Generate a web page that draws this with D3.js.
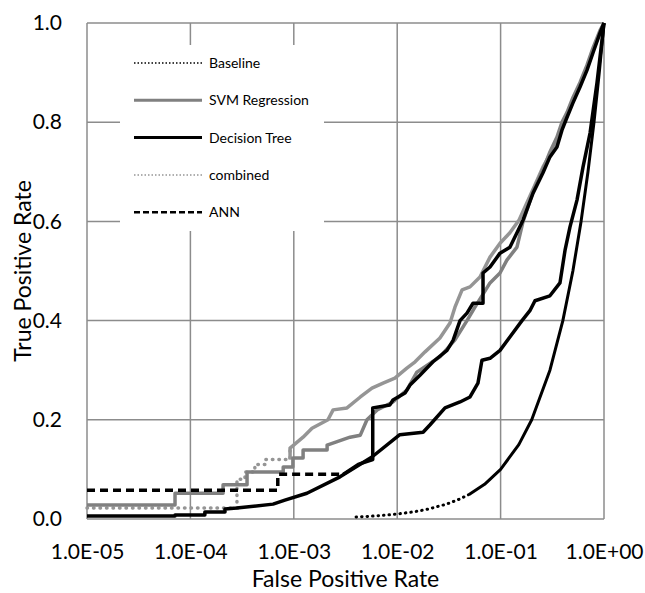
<!DOCTYPE html>
<html>
<head>
<meta charset="utf-8">
<script src="https://cdn.jsdelivr.net/npm/d3@7"></script>
<style>
	body { margin: 0; background: #fff; }
	svg { display: block; font-family: Lato, "Open Sans", sans-serif; }
</style>
</head>
<body>
<svg id="chart"></svg>
<script>
// tick values and labels
var xTicks = [1e-5, 1e-4, 1e-3, 1e-2, 1e-1, 1];
var xTickLabels = ["1.0E-05", "1.0E-04", "1.0E-03", "1.0E-02", "1.0E-01", "1.0E+00"];
var yTicks = [0, 0.2, 0.4, 0.6, 0.8, 1.0];
var seriesNames = ["Baseline", "SVM Regression", "Decision Tree", "combined", "ANN"];

// series values
var baselineFpr = [0.004, 0.006, 0.008, 0.01, 0.015, 0.02, 0.03, 0.04, 0.05, 0.07, 0.1, 0.15, 0.2, 0.3, 0.4, 0.5, 0.6, 0.7, 0.8, 0.9, 1.0];
var baselineTpr = [0.004, 0.006, 0.008, 0.01, 0.015, 0.02, 0.03, 0.04, 0.05, 0.07, 0.1, 0.15, 0.2, 0.3, 0.4, 0.5, 0.6, 0.7, 0.8, 0.9, 1.0];

var svmFpr = [1e-5, 7.1e-5, 7.1e-5, 2.07e-4, 2.07e-4, 3.53e-4, 3.53e-4, 7.9e-4, 7.9e-4, 9.8e-4, 9.8e-4, 1.23e-3, 1.23e-3, 2.1e-3, 2.1e-3, 3.5e-3, 4.4e-3, 5.1e-3, 6.4e-3, 9.1e-3, 0.0124, 0.0155, 0.0259, 0.0362, 0.0473, 0.0565, 0.079, 0.0987, 0.115, 0.144, 0.165, 0.206, 0.257, 0.30, 0.351, 0.392, 0.439, 0.501, 0.586, 0.685, 0.783, 0.915, 1.0];
var svmTpr = [0.028, 0.028, 0.052, 0.052, 0.069, 0.069, 0.095, 0.095, 0.105, 0.105, 0.123, 0.123, 0.139, 0.139, 0.149, 0.165, 0.169, 0.20, 0.22, 0.236, 0.26, 0.296, 0.327, 0.361, 0.40, 0.427, 0.476, 0.496, 0.522, 0.548, 0.60, 0.66, 0.705, 0.74, 0.77, 0.80, 0.82, 0.85, 0.88, 0.915, 0.95, 0.985, 1.0];

var treeFpr = [1e-5, 7.1e-5, 7.1e-5, 1.38e-4, 1.38e-4, 2.16e-4, 2.16e-4, 2.8e-4, 6.3e-4, 8.2e-4, 1.34e-3, 2.8e-3, 5.7e-3, 0.0106, 0.0178, 0.0208, 0.029, 0.0405, 0.0506, 0.0604, 0.066, 0.079, 0.0987, 0.123, 0.161, 0.192, 0.215, 0.30, 0.375, 0.42, 0.469, 0.548, 0.627, 0.733, 0.855, 1.0];
var treeTpr = [0.006, 0.006, 0.008, 0.008, 0.014, 0.014, 0.02, 0.022, 0.03, 0.038, 0.052, 0.085, 0.125, 0.17, 0.175, 0.19, 0.224, 0.236, 0.246, 0.274, 0.32, 0.324, 0.34, 0.367, 0.40, 0.42, 0.44, 0.45, 0.476, 0.542, 0.589, 0.643, 0.71, 0.778, 0.879, 1.0];

var combinedFpr = [1e-5, 2.82e-4, 2.82e-4, 3.37e-4, 3.37e-4, 4.2e-4, 4.2e-4, 5.3e-4, 5.3e-4, 9.2e-4, 9.2e-4, 1.23e-3, 1.5e-3, 2.14e-3, 2.4e-3, 3.27e-3, 4.4e-3, 5.7e-3, 7.3e-3, 9.5e-3, 0.0124, 0.0149, 0.0186, 0.0259, 0.0324, 0.0362, 0.0424, 0.0506, 0.0632, 0.079, 0.0987, 0.123, 0.151, 0.206, 0.257, 0.351, 0.439, 0.586, 0.783, 1.0];
var combinedTpr = [0.022, 0.022, 0.08, 0.08, 0.095, 0.095, 0.11, 0.11, 0.12, 0.12, 0.143, 0.165, 0.183, 0.20, 0.22, 0.224, 0.246, 0.264, 0.274, 0.284, 0.304, 0.317, 0.337, 0.365, 0.395, 0.427, 0.462, 0.468, 0.488, 0.528, 0.556, 0.577, 0.603, 0.665, 0.71, 0.76, 0.815, 0.875, 0.945, 1.0];

var annFpr = [1e-5, 7e-4, 7e-4, 3.0e-3, 4.2e-3, 5.8e-3, 5.8e-3, 8.5e-3, 9.1e-3, 0.0119, 0.0133, 0.0166, 0.0222, 0.0303, 0.0347, 0.0405, 0.0473, 0.0541, 0.0676, 0.0676, 0.079, 0.0987, 0.123, 0.144, 0.165, 0.206, 0.257, 0.300, 0.351, 0.392, 0.439, 0.501, 0.586, 0.685, 0.783, 0.915, 1.0];
var annTpr = [0.058, 0.058, 0.09, 0.09, 0.11, 0.12, 0.224, 0.23, 0.24, 0.254, 0.27, 0.29, 0.317, 0.34, 0.36, 0.40, 0.415, 0.435, 0.435, 0.496, 0.508, 0.536, 0.548, 0.577, 0.603, 0.657, 0.698, 0.73, 0.75, 0.784, 0.81, 0.839, 0.871, 0.905, 0.94, 0.98, 1.0];

(function() {

	var width = 645, height = 593;
	var margin = {top: 23, right: 41, bottom: 74, left: 87};
	var w = width - margin.left - margin.right;
	var h = height - margin.top - margin.bottom;
	var gridColor = "#8c8c8c";

	var svg = d3.select("#chart")
		.attr("width", width)
		.attr("height", height);

	svg.append("defs").append("clipPath")
		.attr("id", "clip")
		.append("rect")
		.attr("x", -3).attr("y", -3)
		.attr("width", w + 6)
		.attr("height", h + 3);

	var chartArea = svg.append("g")
		.attr("transform", "translate(" + margin.left + "," + margin.top + ")");

	var x = d3.scaleLog().domain([1e-5, 1]).range([0, w]);
	var y = d3.scaleLinear().domain([0, 1]).range([h, 0]);

	// grid
	chartArea.append("g").selectAll("line.vgrid")
		.data(xTicks).enter().append("line")
		.attr("x1", function(d) { return x(d); })
		.attr("x2", function(d) { return x(d); })
		.attr("y1", 0).attr("y2", h)
		.attr("stroke", gridColor).attr("stroke-width", 1.5);
	chartArea.append("g").selectAll("line.hgrid")
		.data(yTicks).enter().append("line")
		.attr("x1", 0).attr("x2", w)
		.attr("y1", function(d) { return y(d); })
		.attr("y2", function(d) { return y(d); })
		.attr("stroke", gridColor).attr("stroke-width", 1.5);

	// axes (labels only)
	var xAxis = chartArea.append("g")
		.attr("transform", "translate(0," + h + ")")
		.call(d3.axisBottom(x).tickValues(xTicks)
			.tickFormat(function(d, i) { return xTickLabels[i]; })
			.tickSize(0).tickPadding(25));
	var yAxis = chartArea.append("g")
		.call(d3.axisLeft(y).tickValues(yTicks)
			.tickFormat(d3.format(".1f"))
			.tickSize(0).tickPadding(25));
	[xAxis, yAxis].forEach(function(a) {
		a.select(".domain").remove();
		a.selectAll("text").attr("font-size", 21).attr("fill", "#000")
			.attr("font-family", "Lato, sans-serif");
	});

	svg.append("text")
		.attr("x", margin.left + w / 2).attr("y", 587)
		.attr("text-anchor", "middle").attr("font-size", 23)
		.text("False Positive Rate");
	svg.append("text")
		.attr("transform", "translate(31," + (margin.top + h / 2) + ") rotate(-90)")
		.attr("text-anchor", "middle").attr("font-size", 23)
		.text("True Positive Rate");

	// legend box
	var legend = chartArea.append("g");
	legend.append("rect")
		.attr("x", 33).attr("y", 22).attr("width", 204).attr("height", 186)
		.attr("fill", "#fff");

	var series = [
		{fpr: baselineFpr, tpr: baselineTpr, color: "#000", width: 3, dash: "0.5,5", split: 0.05, legendWidth: 1.5},
		{fpr: svmFpr, tpr: svmTpr, color: "#808080", width: 3.5, dash: null},
		{fpr: treeFpr, tpr: treeTpr, color: "#000", width: 3.5, dash: null},
		{fpr: combinedFpr, tpr: combinedTpr, color: "#959595", width: 3.5, dash: "0.5,6", split: 9.2e-4, legendWidth: 1.5},
		{fpr: annFpr, tpr: annTpr, color: "#000", width: 3.5, dash: "8,5", split: 3.0e-3, legendWidth: 2.5}
	];

	var line = d3.line()
		.x(function(d) { return x(d[0]); })
		.y(function(d) { return y(d[1]); });

	var plot = chartArea.append("g").attr("clip-path", "url(#clip)");
	var drawOrder = [3, 1, 0, 2, 4];
	drawOrder.forEach(function(k) {
		var s = series[k];
		var pts = d3.zip(s.fpr, s.tpr);
		if (s.dash) {
			var sparse = pts.filter(function(p) { return p[0] <= s.split; });
			var dense = pts.filter(function(p) { return p[0] >= s.split; });
			if (sparse.length && sparse[sparse.length - 1][0] < s.split) {
				dense.unshift(sparse[sparse.length - 1]);
			}
			plot.append("path").datum(sparse)
				.attr("d", line).attr("fill", "none")
				.attr("stroke", s.color).attr("stroke-width", s.width)
				.attr("stroke-dasharray", s.dash)
				.attr("stroke-linecap", s.dash === "8,5" ? "butt" : "round");
			plot.append("path").datum(dense)
				.attr("d", line).attr("fill", "none")
				.attr("stroke", s.color).attr("stroke-width", s.width)
				.attr("stroke-linejoin", "round");
		} else {
			plot.append("path").datum(pts)
				.attr("d", line).attr("fill", "none")
				.attr("stroke", s.color).attr("stroke-width", s.width)
				.attr("stroke-linejoin", "round");
		}
	});

	// legend entries
	var entry = legend.selectAll("g.entry")
		.data(series).enter().append("g")
		.attr("transform", function(d, i) { return "translate(47," + (40 + i * 37.3) + ")"; });
	entry.append("line")
		.attr("x1", 0).attr("x2", 68)
		.attr("stroke", function(d) { return d.color; })
		.attr("stroke-width", function(d) { return d.legendWidth || d.width - 0.5; })
		.attr("stroke-dasharray", function(d) { return d.dash === "8,5" ? "6,3" : (d.dash ? "1.5,2" : null); });
	entry.append("text")
		.attr("x", 75).attr("dy", "0.35em")
		.attr("font-size", 14)
		.text(function(d, i) { return seriesNames[i]; });

})();
</script>
</body>
</html>
